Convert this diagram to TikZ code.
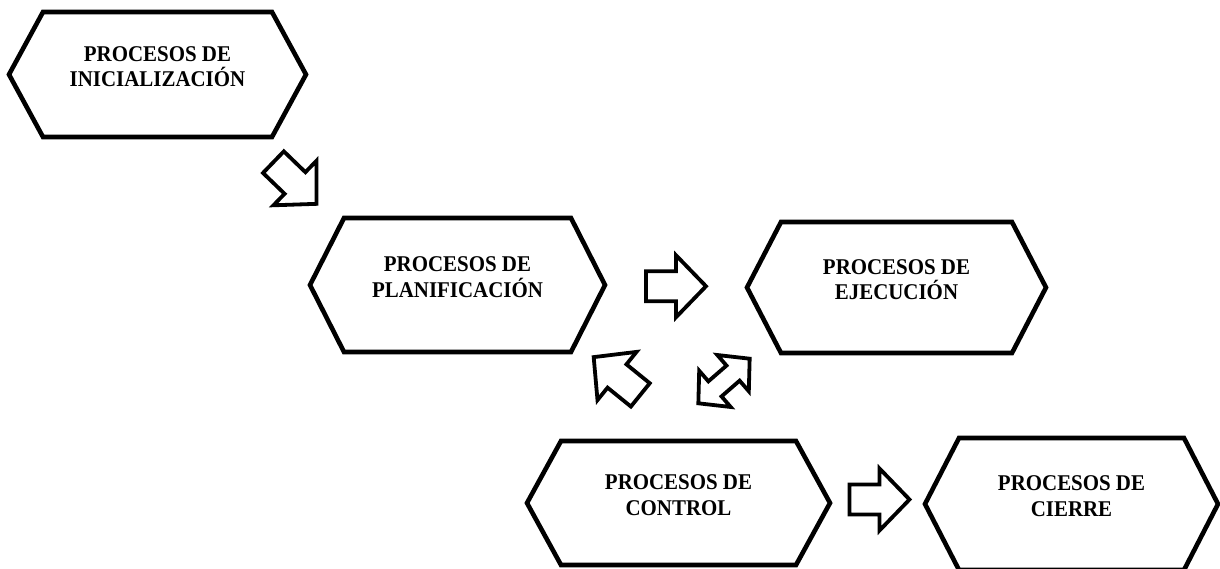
\documentclass[tikz,border=0pt]{standalone}
\usepackage{fontspec}
\setmainfont{Liberation Serif}[FakeStretch=0.93]
\usepackage{tikz}
\usetikzlibrary{calc}
\tikzstyle{hexa}=[line width=4.6pt, line join=miter]
\tikzstyle{blk}=[line width=3.8pt, line join=miter, fill=white]
\tikzstyle{lbl}=[align=center, inner sep=0pt, font=\bfseries\fontsize{22.5}{25.5}\selectfont]
\tikzset{
 rarrow/.pic={\draw[blk] (-30,-15) -- (0,-15) -- (0,-31) -- (30,0) -- (0,31) -- (0,15) -- (-30,15) -- cycle;},
 darrow/.pic={\draw[blk] (-34,0) -- (-12,-24) -- (-12,-10) -- (12,-10) -- (12,-24) -- (34,0) -- (12,24) -- (12,10) -- (-12,10) -- (-12,24) -- cycle;}
}
\begin{document}
\begin{tikzpicture}[x=1pt, y=-1pt]
\useasboundingbox (0,0) rectangle (1220,569);
\foreach \n/\l/\r/\t/\b/\txt in {ini/9/306/12/137/{PROCESOS DE\\INICIALIZACIÓN},
 plan/310/605/218/352/{PROCESOS DE\\PLANIFICACIÓN},
 ejec/747/1046/222/353/{PROCESOS DE\\EJECUCIÓN},
 ctrl/527/830/441/565/{PROCESOS DE\\CONTROL},
 cier/925/1218/438/570/{PROCESOS DE\\CIERRE}} {
 \coordinate (\n-w) at (\l,{(\t+\b)/2});
 \coordinate (\n-e) at (\r,{(\t+\b)/2});
 \draw[hexa] (\n-w) -- (\l+34,\t) -- (\r-34,\t) -- (\n-e) -- (\r-34,\b) -- (\l+34,\b) -- cycle;
 \node[lbl] (\n) at ($(\n-w)!0.5!(\n-e)+(0,-8)$) {\txt};
}
% flechas de bloque
\pic[rotate=-44] at (295,183) {rarrow};
\pic at ($(plan-e)!0.5!(ejec-w)$) {rarrow};
\pic[rotate=141] at (617,376) {rarrow};
\pic[rotate=41] at (724,381) {darrow};
\pic at ($(ctrl-e)!0.5!(cier-w)+(2,-4)$) {rarrow};
\end{tikzpicture}
\end{document}
